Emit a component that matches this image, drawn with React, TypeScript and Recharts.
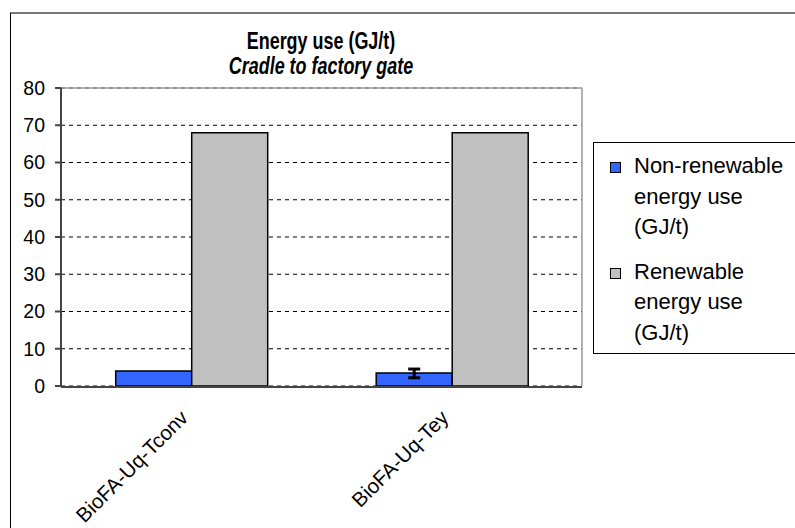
import React from 'react';
import { BarChart, Bar, XAxis, YAxis, CartesianGrid, Legend, ErrorBar } from 'recharts';

// Categories and series values
const categories = ['BioFA-Uq-Tconv', 'BioFA-Uq-Tey'];
const nonRenewable = [4.0, 3.5];
const nonRenewableErr: (number[] | null)[] = [null, [1.3, 1.05]];
const renewable = [68, 68];
const yTicks = [0, 10, 20, 30, 40, 50, 60, 70, 80];
const boundaryTicks = [0, 1, 2];

const seriesNames = ['Non-renewable energy use (GJ/t)', 'Renewable energy use (GJ/t)'];
const legendLines = [
  ['Non-renewable', 'energy use', '(GJ/t)'],
  ['Renewable', 'energy use', '(GJ/t)'],
];
const seriesColors = ['#3366FF', '#C0C0C0'];

const titleText = 'Energy use (GJ/t)';
const subtitleText = 'Cradle to factory gate';

const data = categories.map((name, i) => ({
  name,
  nonRenewable: nonRenewable[i],
  err: nonRenewableErr[i],
  renewable: renewable[i],
}));

const FONT = '"Liberation Sans", Arial, sans-serif';

// Rotated category label, ending just below the axis at the category centre
const CategoryTick = (props: any) => {
  const { x, y, payload } = props;
  const ax = x - 2;
  const ay = y + 33;
  return (
    <text
      x={ax}
      y={ay}
      transform={`rotate(-45, ${ax}, ${ay})`}
      textAnchor="end"
      fontSize={20.5}
      fontFamily={FONT}
      fill="#000"
    >
      {payload.value}
    </text>
  );
};

const LegendBox = () => (
  <div
    style={{
      boxSizing: 'border-box',
      width: 210,
      height: 212,
      border: '1px solid #000',
      background: '#fff',
      fontFamily: FONT,
      fontSize: 22,
      lineHeight: '30.5px',
      paddingTop: 8,
    }}
  >
    {legendLines.map((lines, i) => (
      <div key={seriesNames[i]} style={{ position: 'relative', paddingLeft: 40, marginBottom: 14 }}>
        <span
          style={{
            position: 'absolute',
            left: 16,
            top: 11,
            width: 9,
            height: 9,
            background: seriesColors[i],
            border: '1px solid #000',
          }}
        />
        {lines.map((l) => (
          <div key={l}>{l}</div>
        ))}
      </div>
    ))}
  </div>
);

const titleLine: React.CSSProperties = {
  display: 'block',
  transform: 'scaleX(0.78)',
  transformOrigin: 'center',
  whiteSpace: 'nowrap',
};

export default function App() {
  return (
    <div
      style={{
        position: 'absolute',
        left: 0,
        top: 0,
        width: 795,
        height: 528,
        overflow: 'hidden',
        background: '#fff',
        fontFamily: FONT,
      }}
    >
      <div
        style={{
          position: 'absolute',
          left: 10,
          top: 12,
          width: 820,
          height: 560,
          borderLeft: '1.5px solid #000',
          borderTop: '2px solid #777',
        }}
      />
      <div
        style={{
          position: 'absolute',
          left: 121,
          width: 400,
          top: 29,
          textAlign: 'center',
          fontWeight: 'bold',
          fontSize: 23,
          lineHeight: '25px',
          color: '#000',
        }}
      >
        <span style={titleLine}>{titleText}</span>
        <span style={{ ...titleLine, fontStyle: 'italic' }}>{subtitleText}</span>
      </div>
      <div style={{ position: 'absolute', left: 0, top: 0 }}>
        <BarChart
          width={795}
          height={528}
          data={data}
          margin={{ top: 87, right: 212, bottom: 140, left: 0 }}
          barCategoryGap="21%"
          barGap={0}
        >
          <CartesianGrid horizontal vertical={false} stroke="#000" strokeDasharray="4 4" />
          <XAxis
            xAxisId="bounds"
            type="number"
            domain={[0, 2]}
            ticks={boundaryTicks}
            height={1}
            stroke="#444"
            strokeWidth={2}
            tickSize={6}
            tick={false}
          />
          <XAxis
            dataKey="name"
            height={1}
            axisLine={false}
            tickLine={false}
            tickSize={0}
            tickMargin={0}
            tick={<CategoryTick />}
            interval={0}
          />
          <XAxis
            xAxisId="top"
            orientation="top"
            dataKey="name"
            height={1}
            tick={false}
            tickLine={false}
            stroke="#999"
            strokeWidth={1.5}
          />
          <YAxis
            domain={[0, 80]}
            ticks={yTicks}
            width={61}
            stroke="#444"
            strokeWidth={2}
            tickSize={6}
            tickMargin={10}
            tick={{ fill: '#000', fontSize: 19.5, fontFamily: FONT }}
            interval={0}
          />
          <YAxis
            yAxisId="right"
            orientation="right"
            width={1}
            tick={false}
            tickLine={false}
            stroke="#999"
            strokeWidth={1.5}
          />
          <Legend
            layout="vertical"
            align="center"
            verticalAlign="middle"
            wrapperStyle={{ left: 593, top: 142, width: 210, height: 212 }}
            content={<LegendBox />}
          />
          <Bar
            dataKey="nonRenewable"
            name={seriesNames[0]}
            fill={seriesColors[0]}
            stroke="#000"
            strokeWidth={1.5}
            isAnimationActive={false}
          >
            <ErrorBar dataKey="err" width={6} stroke="#000" strokeWidth={3} isAnimationActive={false} />
          </Bar>
          <Bar
            dataKey="renewable"
            name={seriesNames[1]}
            fill={seriesColors[1]}
            stroke="#000"
            strokeWidth={1.5}
            isAnimationActive={false}
          />
        </BarChart>
      </div>
    </div>
  );
}
